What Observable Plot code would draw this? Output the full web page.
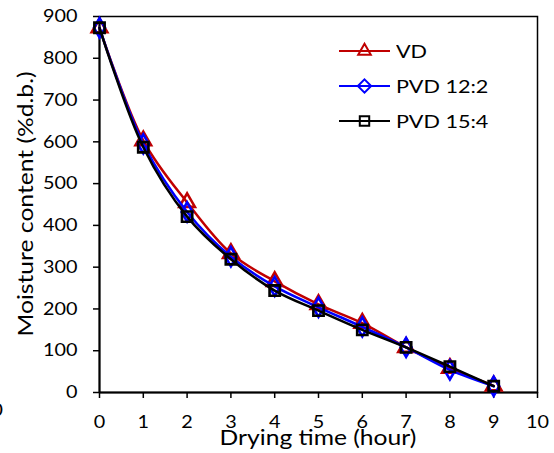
<!DOCTYPE html>
<html><head><meta charset="utf-8">
<script src="https://cdn.jsdelivr.net/npm/d3@7"></script>
<script src="https://cdn.jsdelivr.net/npm/@observablehq/plot@0.6"></script>
<style>
body{margin:0;background:#fff;}
#wrap{position:relative;width:554px;height:453px;font-family:Lato,sans-serif;overflow:hidden;}
#legend{position:absolute;left:339px;top:0;}
.lrow{position:absolute;left:0;height:24px;display:flex;align-items:center;white-space:nowrap;}
.lrow span{font-size:18px;color:#000;display:inline-block;transform:scaleX(1.2);transform-origin:left center;margin-left:6px;}
</style>
</head><body><div id="wrap"><div id="legend"></div></div>
<script>
// ---- data ----
const hours = [0, 1, 2, 3, 4, 5, 6, 7, 8, 9];
const vd     = [873, 603, 455, 333, 266, 211, 166, 108, 58, 16];
const pvd122 = [873, 595, 432, 325, 254, 204, 157, 108, 54, 15];
const pvd154 = [873, 587, 421, 319, 244, 196, 150, 108, 62, 15];
const seriesNames = ["VD", "PVD 12:2", "PVD 15:4"];
const seriesColors = ["#C00000", "#0000FF", "#000000"];
const seriesSymbols = ["triangle", "diamond", "square"];
const xTicks = [0, 1, 2, 3, 4, 5, 6, 7, 8, 9, 10];
const yTicks = [0, 100, 200, 300, 400, 500, 600, 700, 800, 900];
const xTitle = "Drying time (hour)";
const yTitle = "Moisture content (%d.b.)";

const seriesValues = [vd, pvd122, pvd154];
const rows = seriesNames.flatMap((s, k) => hours.map((h, i) => ({series: s, hour: h, mc: seriesValues[k][i]})));

const W = 554, H = 453, mL = 99, mR = 17, mT = 16, mB = 61;
const R = 5.8;

const chart = Plot.plot({
  width: W, height: H,
  marginLeft: mL, marginRight: mR, marginTop: mT, marginBottom: mB,
  style: {fontFamily: "Lato, sans-serif", fontSize: "18px", color: "#000", background: "#fff", overflow: "visible"},
  x: {domain: [0, 10]},
  y: {domain: [0, 900]},
  color: {domain: seriesNames, range: seriesColors},
  symbol: {domain: seriesNames, range: seriesSymbols},
  marks: [
    Plot.frame({stroke: "#000", strokeWidth: 1.5}),
    Plot.axisX({ticks: xTicks, tickSize: 6, tickPadding: 17, strokeWidth: 1.5, label: null, fontSize: 18}),
    Plot.axisY({ticks: yTicks, tickSize: 6, tickPadding: 16, strokeWidth: 1.5, label: null, fontSize: 18}),
    Plot.ruleX([0], {stroke: "#000", strokeWidth: 2}),
    Plot.ruleY([0], {stroke: "#000", strokeWidth: 2}),
    ...seriesNames.flatMap(s => [
      Plot.line(rows.filter(d => d.series === s), {x: "hour", y: "mc", stroke: "series", strokeWidth: 2.5, curve: "catmull-rom"}),
      Plot.dot(rows.filter(d => d.series === s), {x: "hour", y: "mc", stroke: "series", symbol: "series", r: R, strokeWidth: 2.6, fill: "none"})
    ])
  ]
});
const wrap = document.getElementById("wrap");
wrap.insertBefore(chart, wrap.firstChild);

// horizontal stretch of tick labels like the reference
chart.querySelectorAll("text").forEach(t => {
  const len = t.getComputedTextLength();
  if (len > 0) { t.setAttribute("textLength", len * 1.1); t.setAttribute("lengthAdjust", "spacingAndGlyphs"); }
});

const svg = d3.select(chart);
// axis titles
const titles = [
  svg.append("text").attr("x", mL + (W - mL - mR) / 2).attr("y", 445)
    .attr("text-anchor", "middle").attr("font-size", 22).attr("fill", "#000").text(xTitle),
  svg.append("text").attr("transform", `translate(33,${mT + (H - mT - mB) / 2}) rotate(-90)`)
    .attr("text-anchor", "middle").attr("font-size", 22).attr("fill", "#000").text(yTitle),
  // stray clipped label at left edge
  svg.append("text").attr("x", 3).attr("y", 416).attr("text-anchor", "end")
    .attr("font-size", 18).attr("fill", "#000").text("0")
];
titles.forEach(sel => {
  const t = sel.node(), len = t.getComputedTextLength();
  if (len > 0) { t.setAttribute("textLength", len * 1.12); t.setAttribute("lengthAdjust", "spacingAndGlyphs"); }
});

// legend
const symMap = {triangle: d3.symbolTriangle2, diamond: d3.symbolDiamond2, square: d3.symbolSquare2};
const legend = d3.select("#legend");
seriesNames.forEach((s, i) => {
  const row = legend.append("div").attr("class", "lrow").style("top", (39 + i * 35) + "px");
  const ls = row.append("svg").attr("width", 51).attr("height", 24);
  ls.append("line").attr("x1", 0).attr("x2", 51).attr("y1", 12).attr("y2", 12)
    .attr("stroke", seriesColors[i]).attr("stroke-width", 2);
  ls.append("path").attr("d", d3.symbol(symMap[seriesSymbols[i]], Math.PI * 6 * 6)())
    .attr("transform", "translate(25.5,12)").attr("fill", "none")
    .attr("stroke", seriesColors[i]).attr("stroke-width", 2);
  row.append("span").text(s);
});
</script>
</body></html>
